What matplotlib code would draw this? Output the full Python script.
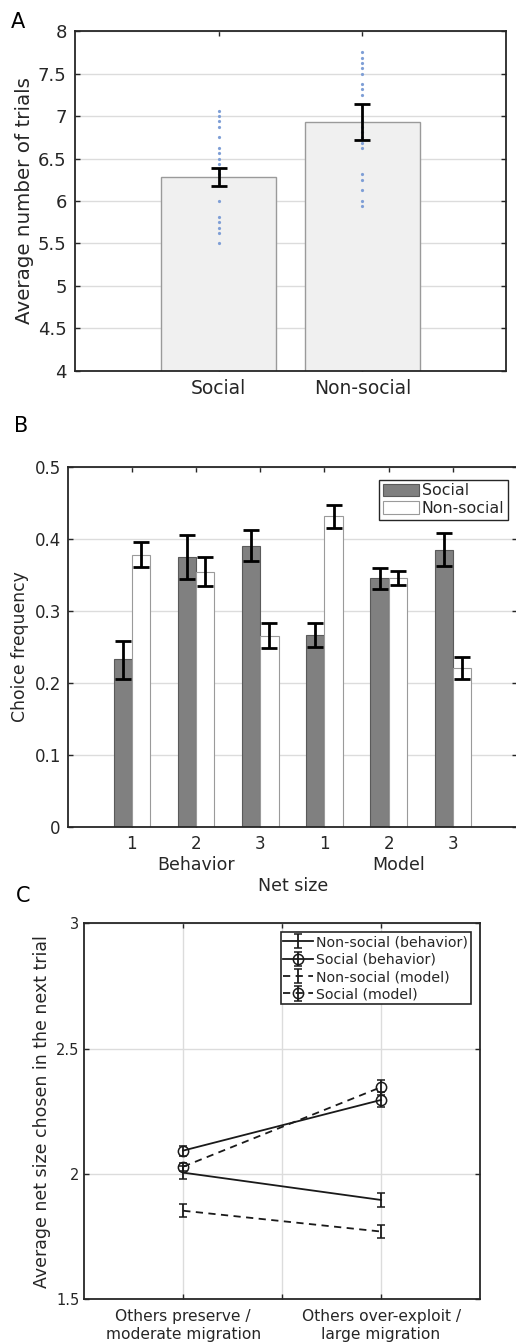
import matplotlib
matplotlib.use("Agg")
import matplotlib.pyplot as plt
from matplotlib.transforms import blended_transform_factory
import numpy as np

plt.rcParams['font.family'] = ['DejaVu Sans']

# ---------------- Panel A data ----------------
a_categories = ["Social", "Non-social"]
a_means = [6.28, 6.93]
a_err_low = [6.18, 6.72]
a_err_high = [6.39, 7.14]
a_dots_social = [7.0625, 7.0, 6.9375, 6.875, 6.75, 6.625, 6.5625, 6.5, 6.4375,
                 6.375, 6.3125, 6.0, 5.8125, 5.75, 5.6875, 5.625, 5.5]
a_dots_nonsocial = [7.75, 7.6875, 7.625, 7.5625, 7.5, 7.375, 7.3125, 7.25, 6.9375,
                    6.875, 6.8125, 6.75, 6.6875, 6.625, 6.3125, 6.25, 6.125, 6.0, 5.9375]
a_yticks = [4, 4.5, 5, 5.5, 6, 6.5, 7, 7.5, 8]
a_yticklabels = ["4", "4.5", "5", "5.5", "6", "6.5", "7", "7.5", "8"]

# ---------------- Panel B data ----------------
b_ticklabels = ["1", "2", "3", "1", "2", "3"]
b_groups = ["Behavior", "Model"]
b_social = [0.233, 0.375, 0.391, 0.267, 0.346, 0.385]
b_social_lo = [0.206, 0.344, 0.369, 0.250, 0.331, 0.362]
b_social_hi = [0.259, 0.406, 0.413, 0.284, 0.360, 0.408]
b_nonsocial = [0.378, 0.354, 0.266, 0.432, 0.346, 0.221]
b_nonsocial_lo = [0.361, 0.335, 0.248, 0.416, 0.336, 0.205]
b_nonsocial_hi = [0.396, 0.375, 0.283, 0.447, 0.356, 0.236]
b_yticks = [0, 0.1, 0.2, 0.3, 0.4, 0.5]

# ---------------- Panel C data ----------------
c_xlabels = ["Others preserve /\nmoderate migration", "", "Others over-exploit /\nlarge migration"]
c_conditions = [1, 2]
c_nonsocial_beh = [2.005, 1.896]
c_nonsocial_beh_err = [0.027, 0.028]
c_social_beh = [2.093, 2.295]
c_social_beh_err = [0.020, 0.030]
c_nonsocial_mod = [1.853, 1.770]
c_nonsocial_mod_err = [0.026, 0.026]
c_social_mod = [2.029, 2.346]
c_social_mod_err = [0.016, 0.030]
c_series_names = ["Non-social (behavior)", "Social (behavior)",
                  "Non-social (model)", "Social (model)"]
c_yticks = [1.5, 2, 2.5, 3]

TXT = "#262626"
GRID = "#dcdcdc"

fig = plt.figure(figsize=(5.16, 13.44), dpi=100)


def matlab_style(ax):
    for s in ax.spines.values():
        s.set_color(TXT)
        s.set_linewidth(1.3)
    ax.tick_params(direction="in", top=True, right=True, colors=TXT,
                   length=3.5, width=1.0, labelcolor=TXT)
    ax.set_axisbelow(True)


# ======================= Panel A =======================
axA = fig.add_axes([0.1453, 0.7240, 0.8353, 0.2529])
xa = np.arange(1, len(a_categories) + 1)
axA.bar(xa, a_means, width=0.8, color="#f0f0f0", edgecolor="#9a9a9a",
        linewidth=1.0, zorder=2)
for i, dots in enumerate([a_dots_social, a_dots_nonsocial]):
    axA.plot([xa[i]] * len(dots), dots, "o", ms=2.3, color="#7f9fd6",
             mec="none", zorder=3)
a_err = [np.array(a_means) - np.array(a_err_low), np.array(a_err_high) - np.array(a_means)]
axA.errorbar(xa, a_means, yerr=a_err, fmt="none", ecolor="black",
             elinewidth=2.0, capsize=5.8, capthick=2.0, zorder=4)
axA.set_xlim(0, 3)
axA.set_ylim(4, 8)
axA.set_xticks(xa)
axA.set_xticklabels(a_categories, fontsize=13.5)
axA.set_yticks(a_yticks)
axA.set_yticklabels(a_yticklabels, fontsize=13)
axA.yaxis.grid(True, color=GRID, linewidth=1.0)
matlab_style(axA)
axA.tick_params(axis="y", pad=6)
axA.tick_params(axis="x", pad=6)
axA.set_ylabel("Average number of trials", fontsize=14.3, color=TXT, labelpad=3)
fig.text(0.021, 1 - 22 / 1344, "A", fontsize=15, color="black", va="center")

# ======================= Panel B =======================
axB = fig.add_axes([0.1312, 0.3849, 0.8708, 0.2674])
xb = np.arange(1, len(b_ticklabels) + 1)
bw = 0.285
axB.bar(xb - bw / 2, b_social, width=bw, color="#808080", edgecolor="#5a5a5a",
        linewidth=0.8, label="Social", zorder=2)
axB.bar(xb + bw / 2, b_nonsocial, width=bw, color="white", edgecolor="#9a9a9a",
        linewidth=0.8, label="Non-social", zorder=2)
bs_err = [np.array(b_social) - np.array(b_social_lo), np.array(b_social_hi) - np.array(b_social)]
bn_err = [np.array(b_nonsocial) - np.array(b_nonsocial_lo), np.array(b_nonsocial_hi) - np.array(b_nonsocial)]
axB.errorbar(xb - bw / 2, b_social, yerr=bs_err, fmt="none", ecolor="black",
             elinewidth=2.0, capsize=6.1, capthick=2.0, zorder=4)
axB.errorbar(xb + bw / 2, b_nonsocial, yerr=bn_err, fmt="none", ecolor="black",
             elinewidth=2.0, capsize=6.1, capthick=2.0, zorder=4)
axB.set_xlim(0, 7)
axB.set_ylim(0, 0.5)
axB.set_xticks(xb)
axB.set_xticklabels(b_ticklabels, fontsize=12)
axB.set_yticks(b_yticks)
axB.set_yticklabels(["0", "0.1", "0.2", "0.3", "0.4", "0.5"], fontsize=12)
axB.yaxis.grid(True, color=GRID, linewidth=1.0)
matlab_style(axB)
axB.tick_params(axis="y", pad=5)
axB.tick_params(axis="x", pad=6)
axB.set_ylabel("Choice frequency", fontsize=12.4, color=TXT, labelpad=4)
trB = blended_transform_factory(axB.transData, fig.transFigure)
axB.text(2, 1 - 865 / 1344, b_groups[0], transform=trB, ha="center", va="center",
         fontsize=12.5, color=TXT)
axB.text(5.15, 1 - 865 / 1344, b_groups[1], transform=trB, ha="center", va="center",
         fontsize=12.5, color=TXT)
fig.text(293 / 516, 1 - 886 / 1344, "Net size", ha="center", va="center",
         fontsize=12.5, color=TXT)
legB = axB.legend(loc="upper right", bbox_to_anchor=(0.9805, 0.966), fontsize=11.4,
                  frameon=True, fancybox=False, framealpha=1, edgecolor=TXT,
                  handlelength=2.3, handleheight=0.85, handletextpad=0.15,
                  borderpad=0.25, labelspacing=0.15, borderaxespad=0)
legB.get_frame().set_linewidth(1.0)
for t in legB.get_texts():
    t.set_color(TXT)
fig.text(0.028, 1 - 426 / 1344, "B", fontsize=15, color="black", va="center")

# ======================= Panel C =======================
axC = fig.add_axes([0.1634, 0.0333, 0.7668, 0.2798])
xc = np.array(c_conditions)
kw = dict(color="#1a1a1a", ecolor="#1a1a1a", elinewidth=1.3, capsize=2.6,
          capthick=1.3, lw=1.3, mfc="none", mec="#1a1a1a", mew=1.1)
axC.errorbar(xc, c_nonsocial_beh, yerr=c_nonsocial_beh_err, ls="-", marker="none",
             label=c_series_names[0], **kw)
axC.errorbar(xc, c_social_beh, yerr=c_social_beh_err, ls="-", marker="o", ms=7.4,
             label=c_series_names[1], **kw)
axC.errorbar(xc, c_nonsocial_mod, yerr=c_nonsocial_mod_err, ls=(0, (4, 3)), marker="none",
             label=c_series_names[2], **kw)
axC.errorbar(xc, c_social_mod, yerr=c_social_mod_err, ls=(0, (4, 3)), marker="o", ms=7.4,
             label=c_series_names[3], **kw)
axC.set_xlim(0.5, 2.5)
axC.set_ylim(1.5, 3)
axC.set_xticks([1, 1.5, 2])
axC.set_xticklabels(c_xlabels, fontsize=11.2, linespacing=1.28)
axC.set_yticks(c_yticks)
axC.set_yticklabels(["1.5", "2", "2.5", "3"], fontsize=10.5)
axC.grid(True, color=GRID, linewidth=1.0)
matlab_style(axC)
axC.tick_params(axis="x", pad=7)
axC.set_ylabel("Average net size chosen in the next trial", fontsize=12.5,
               color=TXT, labelpad=4)
legC = axC.legend(loc="upper right", bbox_to_anchor=(0.9765, 0.9755), fontsize=10.2,
                  frameon=True, fancybox=False, framealpha=1, edgecolor=TXT,
                  handlelength=2.1, handletextpad=0.2, borderpad=0.2,
                  labelspacing=0.24, borderaxespad=0)
legC.get_frame().set_linewidth(1.2)
for t in legC.get_texts():
    t.set_color(TXT)
fig.text(0.03, 1 - 896 / 1344, "C", fontsize=15, color="black", va="center")

fig.savefig("out.png", dpi=100)
